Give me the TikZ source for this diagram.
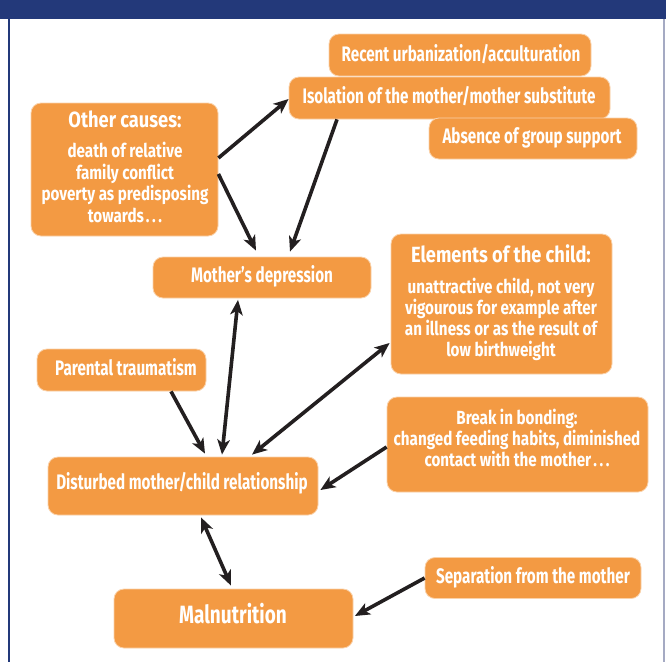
\documentclass[tikz,border=0pt]{standalone}
\usepackage{fontspec}
\setmainfont{Fira Sans}[FakeStretch=0.725]
\newfontfamily\bodyfont{Fira Sans}[FakeStretch=0.80]
\newfontfamily\ttlfont{Fira Sans}[FakeStretch=0.83]
\newfontfamily\bigfont{Fira Sans}[FakeStretch=0.76]
\usetikzlibrary{arrows.meta,calc}
\definecolor{boxc}{RGB}{243,154,67}
\definecolor{hdr}{RGB}{35,57,122}
\definecolor{arrc}{RGB}{35,31,32}
\definecolor{rborder}{RGB}{165,170,195}
\newcommand{\mydots}{\kern2pt.\kern2.6pt.\kern2.6pt.}
\begin{document}
\begin{tikzpicture}[x=1pt,y=-1pt,
  box/.style={fill=boxc, draw=white!55!boxc, line width=0.8pt, rounded corners=10pt, inner sep=0pt},
  lbl/.style={text=white, anchor=base, inner sep=0pt, font=\bfseries\fontsize{21}{21}\selectfont},
  bodyl/.style={lbl, font=\bodyfont\bfseries\fontsize{19}{19}\selectfont},
  ttl/.style={lbl, font=\ttlfont\bfseries\fontsize{22}{22}\selectfont},
  big/.style={lbl, font=\bigfont\bfseries\fontsize{25}{25}\selectfont},
  arr/.style={draw=arrc, line width=3.6pt, -{Stealth[length=15pt,width=12.5pt,inset=4pt]}},
  darr/.style={draw=arrc, line width=3.6pt, {Stealth[length=15pt,width=12.5pt,inset=4pt]}-{Stealth[length=15pt,width=12.5pt,inset=4pt]}}
]
\useasboundingbox (0,0) rectangle (666,662);
\fill[white] (0,0) rectangle (666,662);
% frame
\fill[hdr] (0,0) rectangle (666,19);
\draw[hdr, line width=2pt] (8.5,19) -- (8.5,662);
\draw[rborder, line width=1.5pt] (664.2,19) -- (664.2,662);

% boxes
\node[box, minimum width=262pt, minimum height=42pt] (rec) at (460,55) {};
\node[box, minimum width=321pt, minimum height=42pt] (iso) at (449.5,98) {};
\node[box, minimum width=208pt, minimum height=41pt] (abs) at (533,138.5) {};
\node[box, minimum width=187pt, minimum height=133pt] (oth) at (124.5,169.5) {};
\node[box, minimum width=218pt, minimum height=41pt] (dep) at (262,277.5) {};
\node[box, minimum width=221pt, minimum height=140pt] (ele) at (501.5,304) {};
\node[box, minimum width=169pt, minimum height=42pt] (par) at (121.5,370) {};
\node[box, minimum width=261pt, minimum height=95pt] (brk) at (517.5,444.5) {};
\node[box, minimum width=270pt, minimum height=58pt] (dis) at (183,486) {};
\node[box, minimum width=216pt, minimum height=41pt] (sep) at (533,578) {};
\node[box, minimum width=239pt, minimum height=59pt] (mal) at (233.5,618.5) {};

% texts
\node[lbl] (recT) at (461,61) {Recent urbanization/acculturation};
\node[lbl] (isoT) at (449,103) {Isolation of the mother/mother substitute};
\node[lbl] (absT) at (532,143) {Absence of group support};
\node[ttl] (othT) at (125,127) {Other causes:};
\node[bodyl] (oth1) at (125,157.5) {death of relative};
\node[bodyl] (oth2) at (125,179) {family conflict};
\node[bodyl] (oth3) at (125,200.5) {poverty as predisposing};
\node[bodyl] (oth4) at (125,222) {towards\mydots};
\node[lbl] (depT) at (262,282.5) {Mother’s depression};
\node[ttl] (eleT) at (501,262) {Elements of the child:};
\node[bodyl] (ele1) at (501,293.5) {unattractive child, not very};
\node[bodyl] (ele2) at (501,314.5) {vigourous for example after};
\node[bodyl] (ele3) at (501,335.5) {an illness or as the result of};
\node[bodyl] (ele4) at (501,356.5) {low birthweight};
\node[lbl] (parT) at (126,375) {Parental traumatism};
\node[bodyl] (brk1) at (517,424) {Break in bonding:};
\node[bodyl] (brk2) at (517,445) {changed feeding habits, diminished};
\node[bodyl] (brk3) at (517,466) {contact with the mother\mydots};
\node[lbl] (disT) at (182,489) {Disturbed mother/child relationship};
\node[lbl] (sepT) at (533,583) {Separation from the mother};
\node[big] (malT) at (233,623) {Malnutrition};

% connectors
\draw[arr] ($(oth.east)+(0,-11.5)$) -- ($(iso.west)+(0,1)$);
\draw[arr] ($(oth.east)+(0,4.5)$) -- ($(dep.north)+(-6,-6)$);
\draw[arr] ($(iso.south)+(-112.5,0)$) -- ($(dep.north)+(28,-5)$);
\draw[darr] ($(dep.south)+(-24,1.5)$) -- ($(dis.north)+(39,-2)$);
\draw[arr] ($(par.south)+(49.5,0)$) -- ($(dis.north)+(22,-3)$);
\draw[darr] ($(ele.west)+(-1,39)$) -- ($(dis.north)+(69,-2)$);
\draw[arr] ($(brk.west)+(0,2.5)$) -- ($(dis.east)+(2,4)$);
\draw[darr] ($(dis.south)+(18,2)$) -- ($(mal.north)+(-2.5,-3)$);
\draw[arr] (sep.west) -- ($(mal.east)+(1.5,-2.5)$);
\end{tikzpicture}
\end{document}
